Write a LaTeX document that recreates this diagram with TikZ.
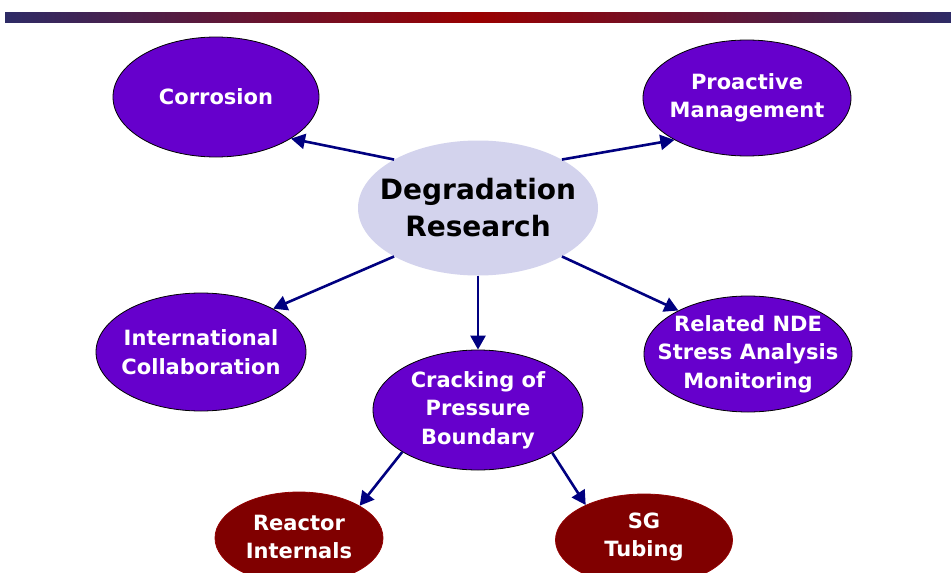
\documentclass[tikz,border=0pt]{standalone}
\usepackage{fontspec}
\setmainfont{DejaVu Sans}
\usetikzlibrary{shapes.geometric,arrows.meta}
\definecolor{barL}{RGB}{46,43,102}
\definecolor{barC}{RGB}{153,0,0}
\definecolor{purp}{RGB}{102,0,204}
\definecolor{dred}{RGB}{128,0,0}
\definecolor{lav}{RGB}{211,211,237}
\definecolor{navy}{RGB}{0,0,128}
\tikzset{
  topic/.style={ellipse, draw=black, line width=0.8pt, fill=purp, inner sep=0pt},
  subtopic/.style={topic, fill=dred, draw=dred!85!red},
  hub/.style={ellipse, fill=lav, draw=none, inner sep=0pt},
  ttext/.style={text=white, inner sep=0pt, align=center, font=\bfseries\fontsize{21}{28.5}\selectfont},
  htext/.style={text=black, inner sep=0pt, align=center, font=\bfseries\fontsize{28}{37}\selectfont},
  arr/.style={draw=navy, line width=2.6pt, -{Triangle[length=14pt,width=15pt]}}
}
\begin{document}
\begin{tikzpicture}[x=1pt,y=-1pt]
\useasboundingbox (0,0) rectangle (951,573);
\fill[white] (0,0) rectangle (951,573);
\shade[left color=barL, right color=barL, middle color=barC] (5,12) rectangle (951,22);

\node[hub, minimum width=240pt, minimum height=135pt] (deg) at (478,208) {};
\node[topic, minimum width=206pt, minimum height=120pt] (cor) at (216,97) {};
\node[topic, minimum width=208pt, minimum height=116pt] (pro) at (747,98) {};
\node[topic, minimum width=210pt, minimum height=118pt] (int) at (201,352) {};
\node[topic, minimum width=208pt, minimum height=116pt] (nde) at (748,354) {};
\node[topic, minimum width=210pt, minimum height=120pt] (crk) at (478,410) {};
\node[subtopic, minimum width=168pt, minimum height=92pt] (rea) at (299,538) {};
\node[subtopic, minimum width=177pt, minimum height=92pt] (sg) at (644,540) {};

\node[htext] (degt) at (deg) {Degradation\\Research};
\node[ttext] (cort) at (cor) {Corrosion};
\node[ttext] (prot) at (pro) {Proactive\\Management};
\node[ttext] (intt) at (int) {International\\Collaboration};
\node[ttext] (ndet) at (nde) {Related NDE\\Stress Analysis\\Monitoring};
\node[ttext] (crkt) at (crk) {Cracking of\\Pressure\\Boundary};
\node[ttext] (reat) at (299,537) {Reactor\\Internals};
\node[ttext] (sgt) at (644,537) {SG\\Tubing};

\draw[arr] (deg.150) -- (cor.-29);
\draw[arr] (deg.30) -- (pro.-150);
\draw[arr] (deg.-150) -- (int.31);
\draw[arr] (deg.-30) -- (nde.148);
\draw[arr] (deg.south) -- (crk.north);
\draw[arr] (crk.-151) -- (rea.28);
\draw[arr] (crk.-30) -- (sg.149);
\end{tikzpicture}
\end{document}
